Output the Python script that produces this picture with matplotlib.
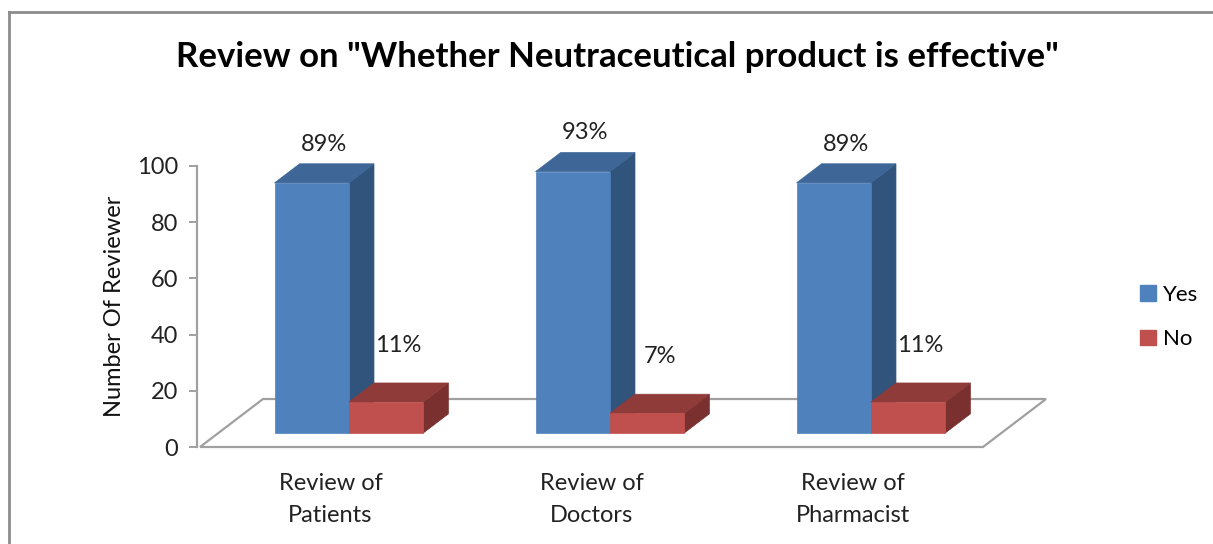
import matplotlib
matplotlib.use("Agg")
import matplotlib.pyplot as plt
from matplotlib.patches import Polygon, Patch
from matplotlib.lines import Line2D

plt.rcParams['font.family'] = ['Lato', 'DejaVu Sans']

# data
categories = ["Review of\nPatients", "Review of\nDoctors", "Review of\nPharmacist"]
series = ["Yes", "No"]
yes_vals = [89, 93, 89]
no_vals = [11, 7, 11]
yes_labels = ["89%", "93%", "89%"]
no_labels = ["11%", "7%", "11%"]

# colours (front, top, side)
colors = {
    "Yes": ("#4F81BD", "#3E6798", "#31547D"),
    "No": ("#C0504D", "#8F3B39", "#7A302E"),
}

W, H = 1213, 544
fig = plt.figure(figsize=(W / 100, H / 100), dpi=100)
ax = fig.add_axes([200 / W, 97 / H, 783 / W, 281 / H])
ax.set_xlim(0, 3)
ax.set_ylim(0, 100)

# depth vector of the 3d floor (data units) and bar placement in depth
DX, DY = 0.2414, 17.08
T0, T1 = 0.292, 0.69
BW = 0.285

# floor
floor = Polygon([(0, 0), (3, 0), (3 + DX, DY), (DX, DY)], closed=True,
                facecolor="white", edgecolor="#A0A0A0", lw=1.6, clip_on=False, zorder=1)
ax.add_patch(floor)


def bar3d(x0, h, cols):
    front, top, side = cols
    fx, fy = T0 * DX, T0 * DY
    bx, by = T1 * DX, T1 * DY
    x1 = x0 + BW
    side_poly = [(x1 + fx, fy), (x1 + bx, by), (x1 + bx, h + by), (x1 + fx, h + fy)]
    top_poly = [(x0 + fx, h + fy), (x1 + fx, h + fy), (x1 + bx, h + by), (x0 + bx, h + by)]
    front_poly = [(x0 + fx, fy), (x1 + fx, fy), (x1 + fx, h + fy), (x0 + fx, h + fy)]
    for poly, c in [(side_poly, side), (top_poly, top), (front_poly, front)]:
        ax.add_patch(Polygon(poly, closed=True, facecolor=c, edgecolor=c, lw=0.5,
                             clip_on=False, zorder=2))


label_pad = {"Yes": 21, "No": 34}  # points above the bar top
for i in range(len(categories)):
    for s, vals, labs in [("Yes", yes_vals, yes_labels), ("No", no_vals, no_labels)]:
        x0 = i + 0.5 - BW if s == "Yes" else i + 0.5
        bar3d(x0, vals[i], colors[s])
        tm = (T0 + T1) / 2
        ax.annotate(labs[i], (x0 + BW / 2 + tm * DX, vals[i] + tm * DY),
                    xytext=(0, label_pad[s]), textcoords="offset points",
                    ha="center", va="center", fontsize=17, color="#222222",
                    annotation_clip=False, zorder=5)

# axes styling
for sp in ["top", "right", "bottom"]:
    ax.spines[sp].set_visible(False)
ax.spines["left"].set_color("#A0A0A0")
ax.spines["left"].set_linewidth(1.6)
ax.spines["left"].set_position(("outward", 2))
ax.set_yticks([0, 20, 40, 60, 80, 100])
ax.tick_params(axis="y", length=6, width=1.4, color="#A0A0A0", labelsize=17,
               labelcolor="#222222", pad=8)
ax.set_xticks([i + 0.5 for i in range(len(categories))])
ax.set_xticklabels(categories, fontsize=17, color="#222222", linespacing=1.65)
ax.tick_params(axis="x", length=0, pad=19)
ax.set_ylabel("Number Of Reviewer", fontsize=17, color="#111111", labelpad=8)
ax.patch.set_visible(False)

fig.text(617 / W, 1 - 57 / H, 'Review on "Whether Neutraceutical product is effective"',
         ha="center", va="center", fontsize=25, fontweight="bold", color="black")

handles = [Patch(facecolor=colors[s][0], edgecolor=colors[s][0]) for s in series]
fig.legend(handles, series, loc="center left", bbox_to_anchor=(1140 / W, 1 - 317 / H),
           frameon=False, fontsize=16, handlelength=0.7, handleheight=0.7,
           handletextpad=0.35, labelspacing=1.1, borderpad=0, borderaxespad=0)

# chart border
fig.add_artist(Line2D([9 / W, 9 / W], [0, 1 - 12 / H], color="#8C8C8C", lw=2,
                      transform=fig.transFigure))
fig.add_artist(Line2D([9 / W, 1], [1 - 12 / H, 1 - 12 / H], color="#8C8C8C", lw=2,
                      transform=fig.transFigure))

fig.savefig("out.png", dpi=100)
